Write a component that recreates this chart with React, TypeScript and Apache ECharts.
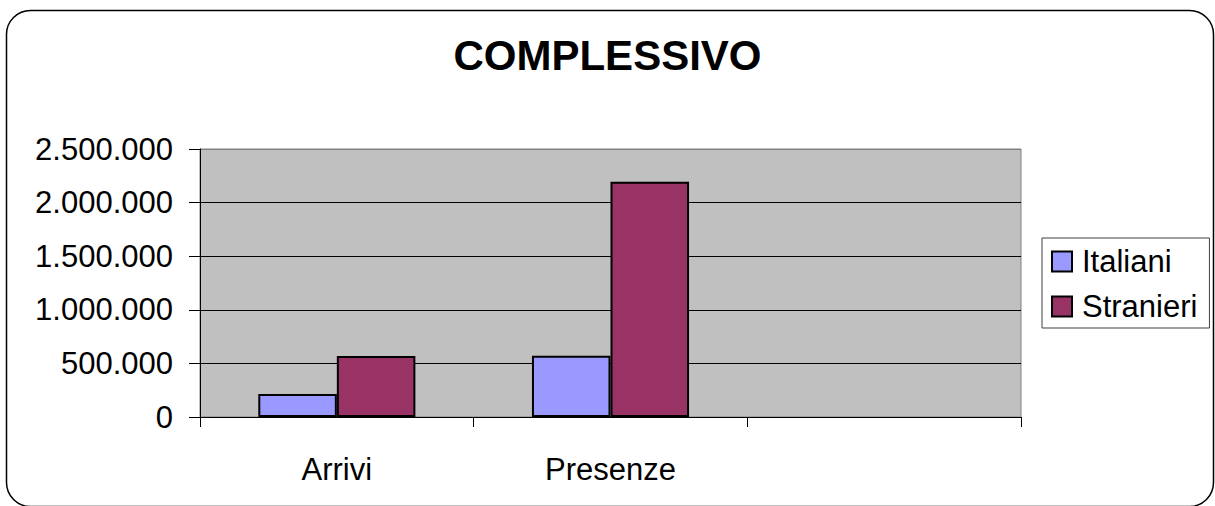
import React, { useEffect, useRef } from "react";
import * as echarts from "echarts";

const categories = ["Arrivi", "Presenze", ""];
const italiani = [215000, 571000, null];
const stranieri = [569000, 2195000, null];
const seriesNames = ["Italiani", "Stranieri"];
const yMax = 2500000;
const yInterval = 500000;

const fmt = (v: number) => String(v).replace(/\B(?=(\d{3})+(?!\d))/g, ".");

const FONT = "'Liberation Sans', Arial, Helvetica, sans-serif";

export default function App() {
  const ref = useRef<HTMLDivElement>(null);
  useEffect(() => {
    if (!ref.current) return;
    const chart = echarts.init(ref.current, null, { renderer: "svg" });
    chart.setOption({
      animation: false,
      backgroundColor: "#ffffff",
      textStyle: { fontFamily: FONT, color: "#000" },
      title: {
        text: "COMPLESSIVO",
        left: "center",
        top: 29,
        textStyle: { fontFamily: FONT, fontSize: 42, fontWeight: "bold", color: "#000" },
      },
      graphic: [
        {
          type: "rect",
          shape: { x: 6.5, y: 10.5, width: 1207, height: 496, r: 24 },
          style: { fill: "none", stroke: "#000", lineWidth: 1.5 },
          silent: true,
          z: 100,
        },
      ],
      legend: {
        orient: "vertical",
        left: 1042,
        top: 238,
        padding: [8, 12, 6, 9],
        itemGap: 14,
        itemWidth: 20,
        itemHeight: 20,
        icon: "rect",
        borderColor: "#404040",
        borderWidth: 1,
        backgroundColor: "#ffffff",
        textStyle: { fontFamily: FONT, fontSize: 31, color: "#000", lineHeight: 31, padding: [0, 0, 0, 5] },
        data: seriesNames,
      },
      grid: {
        left: 200,
        right: 194,
        top: 149,
        bottom: 89,
        show: true,
        backgroundColor: "#c0c0c0",
        borderColor: "#808080",
        borderWidth: 1,
      },
      xAxis: {
        type: "category",
        data: categories,
        axisLine: { lineStyle: { color: "#000", width: 1 } },
        axisTick: { show: true, length: 10, lineStyle: { color: "#000" } },
        axisLabel: { fontFamily: FONT, fontSize: 31, color: "#000", margin: 37 },
      },
      yAxis: {
        type: "value",
        min: 0,
        max: yMax,
        interval: yInterval,
        axisLine: { show: true, lineStyle: { color: "#000", width: 1 } },
        axisTick: { show: true, length: 11, lineStyle: { color: "#000" } },
        axisLabel: { fontFamily: FONT, fontSize: 31, color: "#000", margin: 27, formatter: (v: number) => fmt(v) },
        splitLine: {
          show: true,
          lineStyle: { color: ["#000", "#000", "#000", "#000", "#000", "#808080"], width: 1 },
        },
      },
      series: [
        {
          name: seriesNames[0],
          type: "bar",
          data: italiani,
          barGap: "0%",
          barCategoryGap: "42.6%",
          itemStyle: { color: "#9999ff", borderColor: "#000", borderWidth: 2 },
        },
        {
          name: seriesNames[1],
          type: "bar",
          data: stranieri,
          barGap: "0%",
          barCategoryGap: "42.6%",
          itemStyle: { color: "#993366", borderColor: "#000", borderWidth: 2 },
        },
      ],
    });
    return () => chart.dispose();
  }, []);
  return (
    <div
      ref={ref}
      style={{ position: "fixed", left: 0, top: 0, width: 1215, height: 506 }}
    />
  );
}
